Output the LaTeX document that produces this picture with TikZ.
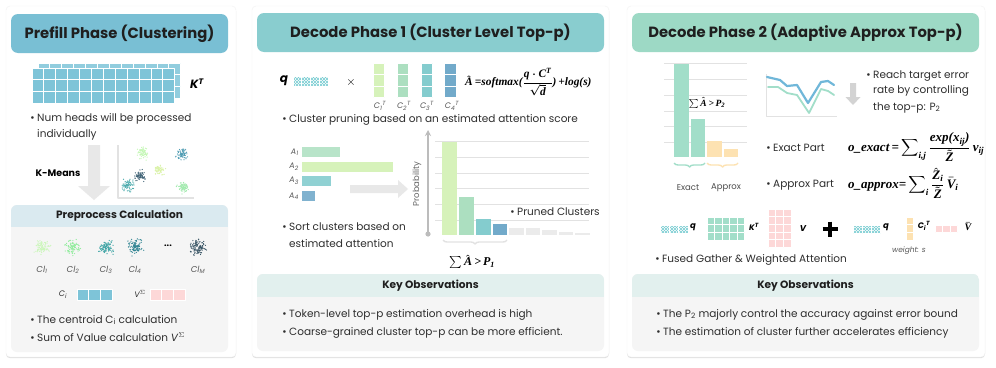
\documentclass[tikz,border=0pt]{standalone}
\usepackage{amsmath}
\usepackage{fontspec}
\setmainfont{Poppins}
\newfontfamily\fmlfont{Liberation Serif}
\usetikzlibrary{calc,positioning,shadows,patterns,arrows.meta,decorations.pathreplacing}

% rejilla de celdas: x0, y0, columnas, filas, ancho, alto, estilo
\newcommand{\cellgrid}[7]{%
  \foreach \cc in {1,...,#3}{\foreach \rr in {1,...,#4}{%
    \path[#7] ({#1+(\cc-1)*#5},{#2+(\rr-1)*#6}) rectangle ++(#5,#6);}}}

% nube de puntos: cx, cy, dispersion, color, cantidad
\newcommand{\dotcluster}[5]{%
  \foreach \k in {1,...,#5}{%
    \pgfmathsetmacro{\ddx}{#3*(rand+rand+rand)/3}%
    \pgfmathsetmacro{\ddy}{#3*(rand+rand+rand)/3}%
    \fill[#4] (#1+\ddx,#2+\ddy) circle (0.65);}}

% letra de fórmula (serif negrita cursiva)
\newcommand{\fm}[1]{\text{\fmlfont\bfseries\itshape #1}}

\begin{document}
\begin{tikzpicture}[x=1pt, y=-1pt, line join=round]
		% Definición de colores
		\definecolor{prefillblue}{RGB}{121,191,212}
		\definecolor{decoteal}{RGB}{137,205,207}
		\definecolor{decomint}{RGB}{157,217,197}
		\definecolor{headblue}{RGB}{218,234,240}
		\definecolor{headmint}{RGB}{226,240,238}
		\definecolor{panelgrey}{RGB}{245,245,245}
		\definecolor{kblue}{RGB}{126,196,216}
		\definecolor{greenA}{RGB}{214,242,186}
		\definecolor{greenB}{RGB}{172,223,192}
		\definecolor{tealC}{RGB}{132,204,206}
		\definecolor{blueD}{RGB}{114,170,202}
		\definecolor{pinkV}{RGB}{253,216,216}
		\definecolor{approxor}{RGB}{253,226,178}
		\definecolor{exactmint}{RGB}{162,222,201}
		\definecolor{gridgrey}{RGB}{226,226,226}
		\definecolor{arrowgrey}{RGB}{232,232,232}
		\definecolor{qhatch}{RGB}{120,205,210}
		\definecolor{lineblue}{RGB}{112,183,217}
		
		\tikzset{
			card/.style={fill=white, rounded corners=4pt, draw=black!5,
				drop shadow={shadow xshift=0pt, shadow yshift=-1.2pt, opacity=0.12, fill=black}},
			titletxt/.style={font=\fontsize{14.8}{17}\selectfont\bfseries, text=black!88},
			headtxt/.style={font=\fontsize{10.6}{12}\selectfont\bfseries, text=black!88},
			bodytxt/.style={font=\fontsize{10.5}{12}\selectfont, anchor=base west, inner sep=0pt, text=black!82},
			smalllbl/.style={font=\fontsize{8}{10}\selectfont\itshape, text=black!65, inner sep=0pt},
			vlbl/.style={font=\fontsize{8.5}{10}\selectfont\bfseries\itshape, inner sep=0pt},
			fml/.style={font=\fontsize{12}{14}\selectfont\boldmath, inner sep=0pt},
			cellbox/.style={fill=#1, draw=white, line width=1pt},
			qcell/.style={draw=white, line width=0.8pt, pattern=north east lines, pattern color=qhatch,
				preaction={pattern=north west lines, pattern color=qhatch}},
			bracelin/.style={decorate, decoration={brace, amplitude=4pt}, line width=1.4pt}
		}
		
		\useasboundingbox (0,0) rectangle (996,367);
		\fill[white] (0,0) rectangle (996,367);
		\pgfmathsetseed{4}
		
		% --- Tarjetas ---
		\path[card] (6,6) rectangle (236,357);
		\path[card] (252,6) rectangle (609,357);
		\path[card] (627,6) rectangle (985,357);
		
		% --- Títulos ---
		\fill[prefillblue, rounded corners=7pt] (11,14) rectangle (228,53);
		\fill[decoteal, rounded corners=7pt] (257,13) rectangle (604,52);
		\fill[decomint, rounded corners=7pt] (632,13) rectangle (979,52);
		\node[titletxt] (tprefill) at (119.5,33.5) {Prefill Phase (Clustering)};
		\node[titletxt] (tdec1) at (430.5,32.5) {Decode Phase 1 (Cluster Level Top-p)};
		\node[titletxt] (tdec2) at (805.5,32.5) {Decode Phase 2 (Adaptive Approx Top-p)};
		
		% --- Paneles inferiores ---
		\fill[panelgrey, rounded corners=6pt] (11,205) rectangle (228,352);
		\fill[panelgrey, rounded corners=6pt] (257,274) rectangle (604,351);
		\fill[panelgrey, rounded corners=6pt] (632,274) rectangle (979,351);
		\begin{scope}
			\clip[rounded corners=6pt] (11,205) rectangle (228,352);
			\fill[headblue] (11,205) rectangle (228,227);
		\end{scope}
		\begin{scope}
			\clip[rounded corners=6pt] (257,274) rectangle (604,351);
			\fill[headmint] (257,274) rectangle (604,297);
		\end{scope}
		\begin{scope}
			\clip[rounded corners=6pt] (632,274) rectangle (979,351);
			\fill[headmint] (632,274) rectangle (979,297);
		\end{scope}
		\node[headtxt] (hpre) at (119.5,216) {Preprocess Calculation};
		\node[headtxt] (hkey1) at (430.5,285.5) {Key Observations};
		\node[headtxt] (hkey2) at (805.5,285.5) {Key Observations};
		
		% ============ Panel 1: Prefill ============
		\cellgrid{38}{63}{12}{3}{11.9}{11.7}{cellbox=kblue!85}
		\cellgrid{32}{68}{12}{3}{11.9}{11.7}{cellbox=kblue}
		\node[vlbl, font=\fontsize{12}{14}\selectfont\bfseries\itshape] (kt) at (197,84) {K\textsuperscript{T}};
		\node[bodytxt] (nheads) at (37,121) {\llap{•\hspace{2.5pt}}Num heads will be processed};
		\node[bodytxt] (nheadsb) at (37,137) {individually};
		
		% flecha K-Means
		\fill[arrowgrey] (88,145) -- (100,145) -- (100,186) -- (110,186) -- (94,200) -- (78,186) -- (88,186) -- cycle;
		\node[font=\fontsize{9.5}{12}\selectfont\bfseries] (kmeans) at (58,173) {K-Means};
		
		% dispersión
		\draw[gridgrey, line width=1.2pt] (118,145) -- (118,198) -- (194,198);
		\dotcluster{143}{153}{8}{greenA!80!green!70}{70}
		\dotcluster{182}{154}{7.5}{blueD!70!teal}{70}
		\dotcluster{159}{170}{7}{greenA!90!yellow}{60}
		\dotcluster{140}{176}{8}{blueD!60!black}{70}
		\dotcluster{128}{185}{8}{tealC!60!teal}{75}
		\dotcluster{183}{187}{7.5}{greenB!80!green!80}{70}
		
		% clústeres del preprocesado
		\dotcluster{42}{247}{10}{greenA!85!green!70}{90}
		\dotcluster{73}{247}{10}{greenB!70!green!80}{90}
		\dotcluster{106}{247}{10}{tealC!50!teal}{100}
		\dotcluster{135}{247}{10}{blueD!50!teal!90!black}{100}
		\dotcluster{198}{247}{10.5}{blueD!50!black}{110}
		\node[font=\fontsize{9}{10}\selectfont\bfseries] (cdots) at (168,246) {...};
		\node[smalllbl, font=\fontsize{8.5}{10}\selectfont\itshape] (cl1) at (42,270) {Cl\textsubscript{1}};
		\node[smalllbl, font=\fontsize{8.5}{10}\selectfont\itshape] (cl2) at (73,270) {Cl\textsubscript{2}};
		\node[smalllbl, font=\fontsize{8.5}{10}\selectfont\itshape] (cl3) at (106,270) {Cl\textsubscript{3}};
		\node[smalllbl, font=\fontsize{8.5}{10}\selectfont\itshape] (cl4) at (135,270) {Cl\textsubscript{4}};
		\node[smalllbl, font=\fontsize{8.5}{10}\selectfont\itshape] (clm) at (198,270) {Cl\textsubscript{M}};
		
		% centroides y suma de valores
		\node[smalllbl, text=black!80] (cilbl) at (63,295) {C\textsubscript{i}};
		\cellgrid{77}{289}{3}{1}{11.7}{11}{cellbox=kblue}
		\node[smalllbl, text=black!80] (vslbl) at (140,294) {V$^{\Sigma}$};
		\cellgrid{150}{289}{3}{1}{11.7}{11}{cellbox=pinkV}
		\node[bodytxt] (centroid) at (37,323) {\llap{•\hspace{2.5pt}}The centroid C\textsubscript{i} calculation};
		\node[bodytxt] (sumval) at (37,341) {\llap{•\hspace{2.5pt}}Sum of Value calculation \textit{V}$^{\Sigma}$};
		
		% ============ Panel 2: Decode fase 1 ============
		\node[vlbl, font=\fontsize{12}{14}\selectfont\bfseries\itshape] (q1) at (284,81) {q};
		\foreach \i in {0,...,3} \path[qcell] (293+\i*8.75,76) rectangle ++(8.75,10);
		\node[font=\fontsize{13}{14}\selectfont] (times) at (351,82) {$\times$};
		\cellgrid{373}{63}{1}{3}{11.5}{11.5}{cellbox=greenA}
		\cellgrid{397}{63}{1}{3}{11.5}{11.5}{cellbox=greenB}
		\cellgrid{421}{63}{1}{3}{11.5}{11.5}{cellbox=tealC}
		\cellgrid{444.5}{63}{1}{3}{11.5}{11.5}{cellbox=blueD}
		\node[smalllbl] (c1t) at (380,106) {C\textsubscript{1}\textsuperscript{T}};
		\node[smalllbl] (c2t) at (404,106) {C\textsubscript{2}\textsuperscript{T}};
		\node[smalllbl] (c3t) at (427,106) {C\textsubscript{3}\textsuperscript{T}};
		\node[smalllbl] (c4t) at (452,106) {C\textsubscript{4}\textsuperscript{T}};
		\node[fml, font=\fontsize{11.4}{14}\selectfont\boldmath, anchor=west] (ahat) at (465,82) {$\hat{\fm{A}}\,\fm{=softmax(}\dfrac{\fm{q}\cdot\fm{C}^{\fm{T}}}{\sqrt{\fm{d}}}\fm{)\,+log(s)}$};
		\node[bodytxt] (prune) at (289,122) {\llap{•\hspace{2.5pt}}Cluster pruning based on an estimated attention score};
		
		% barras horizontales A_i
		\fill[greenB!85] (302,147) rectangle (340,157);
		\fill[greenA] (302,162) rectangle (393,172);
		\fill[tealC!90] (302,176) rectangle (331,186);
		\fill[blueD!90] (302,191) rectangle (315,201);
		\node[smalllbl, anchor=east] (a1) at (299,152) {A\textsubscript{1}};
		\node[smalllbl, anchor=east] (a2) at (299,167) {A\textsubscript{2}};
		\node[smalllbl, anchor=east] (a3) at (299,181) {A\textsubscript{3}};
		\node[smalllbl, anchor=east] (a4) at (299,196) {A\textsubscript{4}};
		\fill[arrowgrey] (350,185) -- (398,185) -- (398,180) -- (408,189) -- (398,198) -- (398,193) -- (350,193) -- cycle;
		\node[bodytxt] (sortc) at (289,230) {\llap{•\hspace{2.5pt}}Sort clusters based on};
		\node[bodytxt] (sortcb) at (289,247) {estimated attention};
		
		% histograma de probabilidad
		\foreach \gy in {141,157,173,188,204,220} \draw[gridgrey, line width=0.8pt] (435,\gy) -- (589,\gy);
		\coordinate (ax0) at (428,234);
		\coordinate (ax1) at (428,130);
		\draw[gridgrey!80!black!90, line width=1.3pt, -{Stealth[length=6pt,width=6pt]}] (ax0) -- (ax1);
		\fill[gridgrey!80!black!90] (ax0) circle (2.6);
		\node[font=\fontsize{8.5}{10}\selectfont, text=black!60, rotate=90] (prob) at (417,184) {Probability};
		\fill[greenA] (442,142) rectangle (457,235);
		\fill[greenB] (459,197) rectangle (474,235);
		\fill[tealC] (475.5,219) rectangle (491,235);
		\fill[blueD] (492.5,224) rectangle (507,235);
		\fill[gridgrey!70] (509,228) rectangle (524,235);
		\fill[gridgrey!70] (526,228) rectangle (540,235);
		\fill[gridgrey!70] (542,230) rectangle (557,235);
		\fill[gridgrey!70] (558.5,232) rectangle (573,235);
		\fill[gridgrey!70] (575,233) rectangle (590,235);
		\node[bodytxt] (pruned) at (517,215) {\llap{•\hspace{2.5pt}}Pruned Clusters};
		\draw[bracelin, gridgrey] (507,240) -- (443,240);
		\node[fml] (sum1) at (472,262) {$\sum\hat{\fm{A}}\,\fm{>\,P}_{\fm{1}}$};
		
		% observaciones
		\node[bodytxt] (obs1a) at (289,317) {\llap{•\hspace{2.5pt}}Token-level top-p estimation overhead is high};
		\node[bodytxt] (obs1b) at (289,335) {\llap{•\hspace{2.5pt}}Coarse-grained cluster top-p can be more efficient.};
		
		% ============ Panel 3: Decode fase 2 ============
		\foreach \gy in {63,79,95,111,126,142} \draw[gridgrey, line width=0.8pt] (664,\gy) -- (747,\gy);
		\fill[exactmint] (674,64) rectangle (689,157);
		\fill[exactmint] (691,119) rectangle (705,157);
		\fill[approxor] (707,141) rectangle (722,157);
		\fill[approxor] (723.5,149) rectangle (738,157);
		\node[fml, font=\fontsize{9.5}{10}\selectfont\boldmath] (sum2) at (707,103) {$\sum\hat{\fm{A}}\,\fm{>\,P}_{\fm{2}}$};
		\draw[bracelin, exactmint] (705,163) -- (674,163);
		\draw[bracelin, approxor] (738,163) -- (707,163);
		\node[font=\fontsize{8.5}{10}\selectfont, text=black!70] (exact) at (688,188) {Exact};
		\node[font=\fontsize{8.5}{10}\selectfont, text=black!70] (approx) at (726,188) {Approx};
		
		% curva de error
		\draw[gridgrey, line width=1pt] (766,74) -- (766,116) -- (837,116);
		\draw[lineblue, line width=2.2pt, line cap=round] (767,77) -- (780,80) -- (787,86) -- (797,85) -- (808,103) -- (821,82) -- (828,81) -- (834,85);
		\draw[exactmint, line width=1.8pt, line cap=round] (768,87) -- (778,87) -- (787,93) -- (797,95) -- (809,113) -- (821,89) -- (828,91) -- (834,95);
		\fill[arrowgrey!90!black!95] (850,83) -- (856,83) -- (856,97) -- (860.5,97) -- (853,105) -- (845.5,97) -- (850,97) -- cycle;
		\node[bodytxt] (reach) at (873,78) {\llap{•\hspace{2.5pt}}Reach target error};
		\node[bodytxt] (reachb) at (873,93) {rate by controlling};
		\node[bodytxt] (reachc) at (873,110) {the top-p: P\textsubscript{2}};
		
		% partes exacta y aproximada
		\node[bodytxt] (exactp) at (773,151) {\llap{•\hspace{2.5pt}}Exact Part};
		\node[bodytxt] (approxp) at (773,187) {\llap{•\hspace{2.5pt}}Approx Part};
		\node[fml, font=\fontsize{13}{15}\selectfont\boldmath, anchor=west] (oexact) at (848,147) {$\fm{o\_exact\,=}\displaystyle\sum\nolimits_{\fm{i,j}}\frac{\fm{exp(x}_{\fm{ij}}\fm{)}}{\tilde{\fm{Z}}}\,\fm{v}_{\fm{ij}}$};
		\node[fml, font=\fontsize{13}{15}\selectfont\boldmath, anchor=west] (oapprox) at (848,183) {$\fm{o\_approx=}\displaystyle\sum\nolimits_{\fm{i}}\frac{\hat{\fm{Z}}_{\fm{i}}}{\tilde{\fm{Z}}}\,\bar{\fm{V}}_{\fm{i}}$};
		
		% atención ponderada fusionada
		\foreach \i in {0,...,2} \path[qcell] (660+\i*9.3,225) rectangle ++(9.3,8);
		\node[vlbl] (q2) at (693,227) {q};
		\cellgrid{707}{217}{5}{3}{7.5}{7.7}{cellbox=exactmint}
		\node[vlbl, font=\fontsize{8}{9}\selectfont\bfseries\itshape] (kt2) at (754,227) {K\textsuperscript{T}};
		\cellgrid{768}{209}{3}{5}{7.7}{7.7}{cellbox=pinkV}
		\node[vlbl] (v2) at (803,229) {V};
		\draw[line width=3.6pt] (822.5,229) -- (837.5,229);
		\draw[line width=3.6pt] (830,221.5) -- (830,236.5);
		\foreach \i in {0,...,2} \path[qcell] (853+\i*9.2,225) rectangle ++(9.2,8);
		\node[vlbl] (q3) at (886,227) {q};
		\cellgrid{906}{217}{1}{3}{7}{7.7}{cellbox=approxor}
		\node[vlbl, font=\fontsize{8}{9}\selectfont\bfseries\itshape] (cit) at (924,226) {C\textsubscript{i}\textsuperscript{T}};
		\cellgrid{935}{225}{3}{1}{7.5}{7.5}{cellbox=pinkV}
		\node[fml, font=\fontsize{10}{10}\selectfont\boldmath] (vbar) at (968,227) {$\bar{\fm{V}}$};
		\node[smalllbl, font=\fontsize{7.5}{9}\selectfont\itshape] (weight) at (909,251) {weight: s};
		\node[bodytxt] (fused) at (662,262) {\llap{•\hspace{2.5pt}}Fused Gather \& Weighted Attention};
		
		% observaciones
		\node[bodytxt] (obs2a) at (663,317) {\llap{•\hspace{2.5pt}}The P\textsubscript{2} majorly control the accuracy against error bound};
		\node[bodytxt] (obs2b) at (663,335) {\llap{•\hspace{2.5pt}}The estimation of cluster further accelerates efficiency};
		
	\end{tikzpicture}
\end{document}
